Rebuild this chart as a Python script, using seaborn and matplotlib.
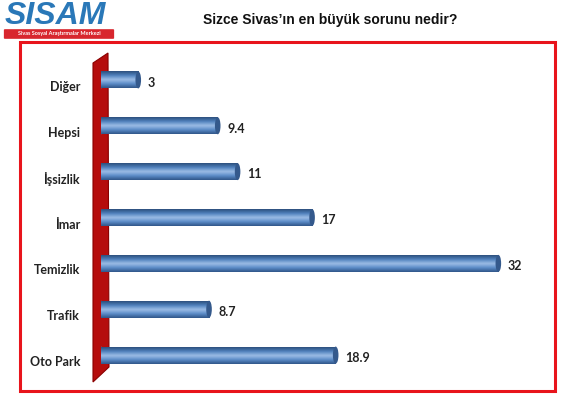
import numpy as np
import pandas as pd
import matplotlib
matplotlib.use("Agg")
import matplotlib.pyplot as plt
import matplotlib.transforms as mtransforms
from matplotlib.patches import Polygon, Rectangle, Ellipse, FancyBboxPatch
from matplotlib.colors import LinearSegmentedColormap
import seaborn as sns

# ---------------- data ----------------
categories = ["Diğer", "Hepsi", "İşsizlik", "İmar", "Temizlik", "Trafik", "Oto Park"]
values = [3, 9.4, 11, 17, 32, 8.7, 18.9]
value_labels = ["3", "9.4", "11", "17", "32", "8.7", "18.9"]
title = "Sizce Sivas\u2019ın en büyük sorunu nedir?"

df = pd.DataFrame({"kategori": categories, "oran": values})

W, H = 566, 415


def px(x, y):
    # pixel position -> figure fraction
    return (x / W, 1 - y / H)


sns.set_theme(style="white")
plt.rcParams["font.family"] = ["Lato", "DejaVu Sans"]

fig = plt.figure(figsize=(W / 100, H / 100), dpi=100)
fig.patch.set_facecolor("white")
ax = fig.add_axes([101 / W, 1 - 378 / H, 447 / W, 321 / H])
ax.patch.set_alpha(0)

sns.barplot(data=df, x="oran", y="kategori", orient="h", color="#4f81bd",
            width=0.37, ax=ax, zorder=2, edgecolor="none")
ax.set_xlim(0, 36)
ax.set_ylim(6.5, -0.5)

# cylinder look: gradient clipped to each bar + end caps
cmap = LinearSegmentedColormap.from_list("cyl", ["#2c4f7c", "#4f81bd", "#9dbde6", "#5b8cc8", "#2f5588"])
grad = np.linspace(0, 1, 64).reshape(-1, 1)
for p, lab in zip(ax.patches, value_labels):
    x0, y0 = p.get_x(), p.get_y()
    w, h = p.get_width(), p.get_height()
    im = ax.imshow(grad, cmap=cmap, aspect="auto", extent=[x0, x0 + w, y0 + h, y0],
                   zorder=2.1, interpolation="bicubic")
    im.set_clip_path(p)
    ax.add_patch(Ellipse((x0 + w, y0 + h / 2), 0.45, h, facecolor="#34598c",
                         edgecolor="none", zorder=2.2))
    ax.add_patch(Ellipse((x0, y0 + h / 2), 0.45, h, facecolor="#4f81bd",
                         edgecolor="none", zorder=2.05))
    ax.text(x0 + w + 0.75, y0 + h / 2 + 0.06, lab, va="center", ha="left",
            fontsize=9, fontweight="bold", color="#222222")

ax.set_xlabel("")
ax.set_ylabel("")
ax.set_xticks([])
ax.tick_params(axis="y", length=0, pad=15)
shift = mtransforms.ScaledTranslation(0, -6 / 100, fig.dpi_scale_trans)
for t in ax.get_yticklabels():
    t.set_fontweight("bold")
    t.set_fontsize(9)
    t.set_color("#222222")
    t.set_transform(t.get_transform() + shift)
sns.despine(ax=ax, left=True, bottom=True)

# red "wall" behind the bars
wall = Polygon([px(93, 63), px(108, 53), px(109, 367), px(93, 382)], closed=True,
               transform=fig.transFigure, facecolor="#b50d0d", edgecolor="#8a0000",
               linewidth=0.8, clip_on=False, zorder=0.5)
ax.add_patch(wall)

# red frame
fig.patches.append(Rectangle(px(20, 391), 535 / W, 349 / H, transform=fig.transFigure,
                             fill=False, edgecolor="#e8141c", linewidth=2.2))

# title
fig.text(330 / W, 1 - 20 / H, title, ha="center", va="center", fontsize=10,
         fontweight="bold", family=["Liberation Sans", "DejaVu Sans"], color="#111111")

# logo
fig.text(5 / W, 1 - 16 / H, "SİSAM", ha="left", va="center", fontsize=23,
         fontweight="bold", style="italic", color="#2a78b8",
         family=["Liberation Sans", "DejaVu Sans"])
fig.patches.append(FancyBboxPatch(px(5, 38), 108 / W, 8 / H, transform=fig.transFigure,
                                  boxstyle="round,pad=0.002", facecolor="#d8262e",
                                  edgecolor="none"))
fig.text(59 / W, 1 - 34 / H, "Sivas Sosyal Araştırmalar Merkezi", ha="center",
         va="center", fontsize=4, color="white", fontweight="bold")

fig.savefig("out.png", dpi=100)
